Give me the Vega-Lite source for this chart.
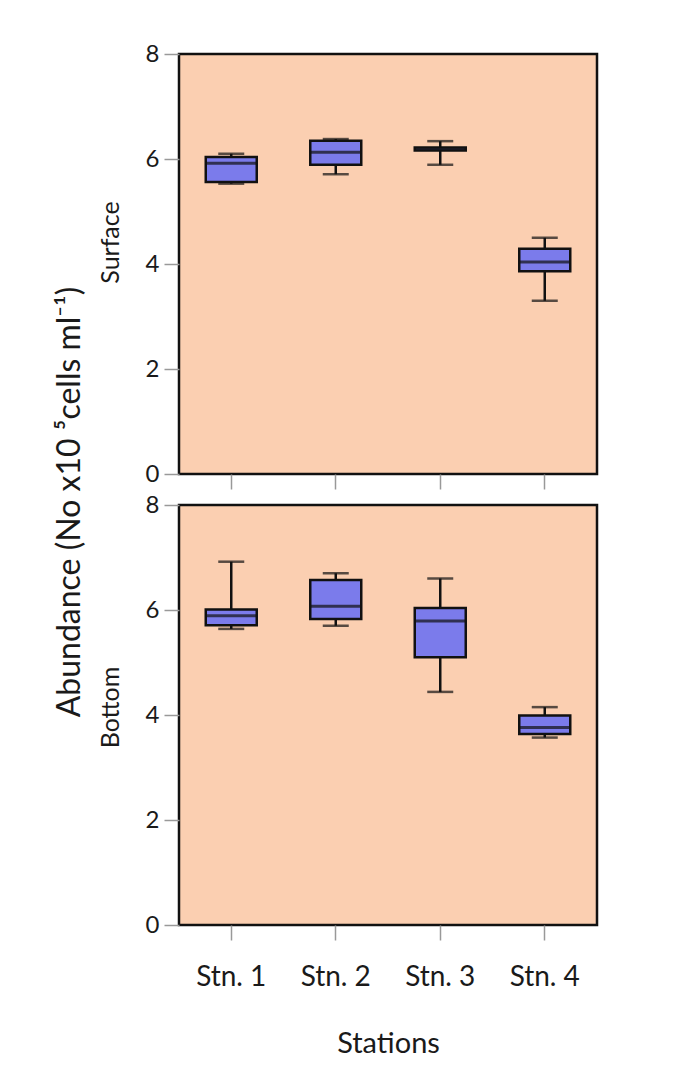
{
  "$schema": "https://vega.github.io/schema/vega-lite/v6.json",
  "background": "white",
  "padding": {"left": 53, "top": 40, "right": 10, "bottom": 5},
  "title": {
    "text": "Abundance (No x10 ⁵cells ml⁻¹)",
    "orient": "left",
    "anchor": "middle",
    "font": "Lato",
    "fontSize": 32,
    "fontWeight": "normal",
    "color": "#1a1a1a",
    "offset": 10,
    "dx": 48
  },
  "data": {
    "values": [
      {"panel": "Surface", "station": "Stn. 1", "lower": 5.53, "q1": 5.56, "median": 5.92, "q3": 6.04, "upper": 6.10},
      {"panel": "Surface", "station": "Stn. 2", "lower": 5.71, "q1": 5.89, "median": 6.13, "q3": 6.35, "upper": 6.38},
      {"panel": "Surface", "station": "Stn. 3", "lower": 5.89, "q1": 6.16, "median": 6.19, "q3": 6.22, "upper": 6.34},
      {"panel": "Surface", "station": "Stn. 4", "lower": 3.30, "q1": 3.86, "median": 4.04, "q3": 4.29, "upper": 4.50},
      {"panel": "Bottom", "station": "Stn. 1", "lower": 5.64, "q1": 5.71, "median": 5.89, "q3": 6.01, "upper": 6.92},
      {"panel": "Bottom", "station": "Stn. 2", "lower": 5.70, "q1": 5.83, "median": 6.07, "q3": 6.57, "upper": 6.70},
      {"panel": "Bottom", "station": "Stn. 3", "lower": 4.44, "q1": 5.10, "median": 5.79, "q3": 6.04, "upper": 6.60},
      {"panel": "Bottom", "station": "Stn. 4", "lower": 3.57, "q1": 3.64, "median": 3.76, "q3": 3.99, "upper": 4.15}
    ]
  },
  "vconcat": [
    {
      "width": 418,
      "height": 420,
      "transform": [{"filter": "datum.panel === 'Surface'"}],
      "encoding": {
        "x": {
          "field": "station", "type": "nominal",
          "scale": {"paddingInner": 0, "paddingOuter": 0},
          "axis": {"labels": false, "title": null, "domain": false, "ticks": true, "tickSize": 15, "tickColor": "#999999", "tickWidth": 1.5}
        }
      },
      "layer": [
        {
          "mark": {"type": "rule", "color": "#111111", "strokeWidth": 2.5},
          "encoding": {
            "y": {"field": "lower", "type": "quantitative", "scale": {"domain": [0, 8], "nice": false},
              "axis": {"title": "Surface", "titleY": 188, "values": [0, 2, 4, 6, 8], "grid": false, "domain": false, "tickSize": 15, "tickColor": "#999999", "tickWidth": 1.5, "labelPadding": 5, "titlePadding": 22}},
            "y2": {"field": "upper"}
          }
        },
        {
          "mark": {"type": "tick", "color": "#111111", "size": 26, "thickness": 2.5},
          "encoding": {"y": {"field": "lower", "type": "quantitative"}}
        },
        {
          "mark": {"type": "tick", "color": "#111111", "size": 26, "thickness": 2.5},
          "encoding": {"y": {"field": "upper", "type": "quantitative"}}
        },
        {
          "mark": {"type": "bar", "size": 51, "fill": "#7B7BEB", "stroke": "#111111", "strokeWidth": 2.5},
          "encoding": {"y": {"field": "q1", "type": "quantitative"}, "y2": {"field": "q3"}}
        },
        {
          "mark": {"type": "tick", "color": "#111111", "size": 51, "thickness": 3},
          "encoding": {"y": {"field": "median", "type": "quantitative"}}
        }
      ]
    },
    {
      "width": 418,
      "height": 420,
      "transform": [{"filter": "datum.panel === 'Bottom'"}],
      "encoding": {
        "x": {
          "field": "station", "type": "nominal",
          "scale": {"paddingInner": 0, "paddingOuter": 0},
          "axis": {"labelAngle": 0, "title": "Stations", "domain": false, "tickSize": 15, "tickColor": "#999999", "tickWidth": 1.5, "labelPadding": 23, "titlePadding": 38}
        }
      },
      "layer": [
        {
          "mark": {"type": "rule", "color": "#111111", "strokeWidth": 2.5},
          "encoding": {
            "y": {"field": "lower", "type": "quantitative", "scale": {"domain": [0, 8], "nice": false},
              "axis": {"title": "Bottom", "titleY": 202, "values": [0, 2, 4, 6, 8], "grid": false, "domain": false, "tickSize": 15, "tickColor": "#999999", "tickWidth": 1.5, "labelPadding": 5, "titlePadding": 22}},
            "y2": {"field": "upper"}
          }
        },
        {
          "mark": {"type": "tick", "color": "#111111", "size": 26, "thickness": 2.5},
          "encoding": {"y": {"field": "lower", "type": "quantitative"}}
        },
        {
          "mark": {"type": "tick", "color": "#111111", "size": 26, "thickness": 2.5},
          "encoding": {"y": {"field": "upper", "type": "quantitative"}}
        },
        {
          "mark": {"type": "bar", "size": 51, "fill": "#7B7BEB", "stroke": "#111111", "strokeWidth": 2.5},
          "encoding": {"y": {"field": "q1", "type": "quantitative"}, "y2": {"field": "q3"}}
        },
        {
          "mark": {"type": "tick", "color": "#111111", "size": 51, "thickness": 3},
          "encoding": {"y": {"field": "median", "type": "quantitative"}}
        }
      ]
    }
  ],
  "spacing": 31,
  "bounds": "flush",
  "config": {
    "view": {"fill": "#FBCFB1", "stroke": "#111111", "strokeWidth": 2.5},
    "axis": {
      "labelFont": "Lato", "labelFontSize": 24, "labelColor": "#1a1a1a",
      "titleFont": "Lato", "titleFontSize": 25, "titleFontWeight": "normal", "titleColor": "#1a1a1a"
    },
    "axisX": {"labelFontSize": 28, "titleFontSize": 29}
  }
}
